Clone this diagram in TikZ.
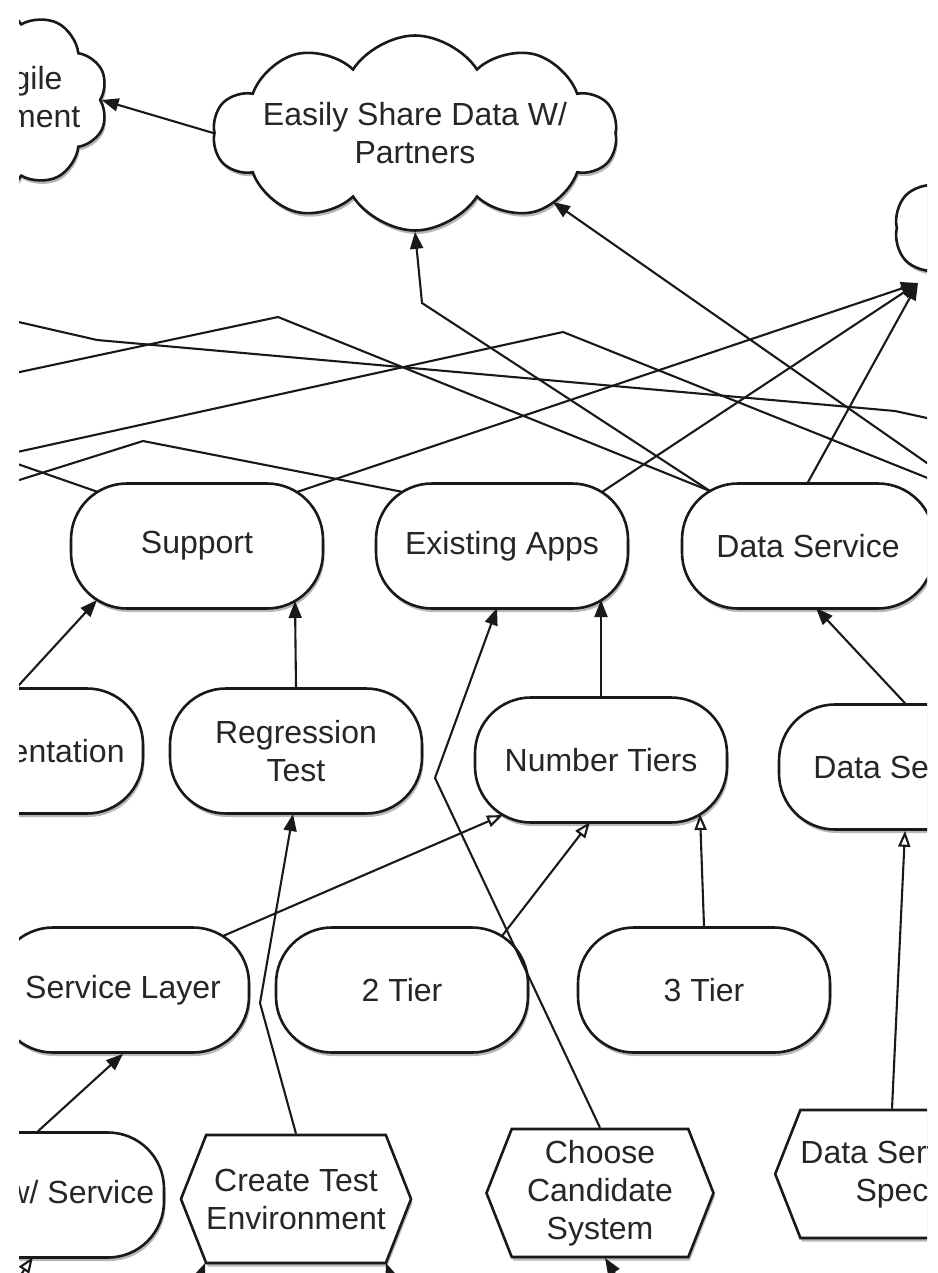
\documentclass[tikz,border=0pt]{standalone}
\usepackage{fontspec}
\setmainfont{Liberation Sans}
\usetikzlibrary{shapes.symbols,shapes.misc,arrows.meta,shadows,calc}

\tikzset{every picture/.style={line width=2.1pt}}
\tikzset{
  shape base/.style={draw=black!90, fill=white, line width=2.6pt, align=center,
    text=black!85, font=\fontsize{32pt}{38pt}\selectfont,
    drop shadow={shadow xshift=1.5pt, shadow yshift=-3.5pt, fill=black!35, opacity=0.8}},
  pill/.style={shape base, rectangle, rounded corners=56pt, minimum width=252pt, minimum height=125pt, inner sep=0pt},
  hexa/.style={shape base, signal, signal to=west and east, signal pointer angle=137, minimum width=227pt, minimum height=128pt, inner sep=0pt},
  puffy/.style={shape base, cloud, cloud puffs=10, cloud puff arc=115, cloud ignores aspect, inner xsep=-60pt, inner ysep=-30pt},
  dep/.style={draw=black!90, -{Triangle[length=17pt,width=13pt]}},
  isa/.style={draw=black!90, -{Triangle[open,length=16pt,width=12pt,fill=white]}},
  wire/.style={draw=black!90},
}

\begin{document}
\begin{tikzpicture}[x=1pt,y=1pt,yscale=-1,xscale=1]
\useasboundingbox (0,0) rectangle (937,1273);
\begin{scope}
\clip (19,0) rectangle (927,1273);

%Shape: Cloud
\node [puffy, minimum width=244pt, minimum height=190pt] (agile) at (-14,100) {More Agile\\Development};
%Shape: Cloud
\node [puffy, minimum width=404pt, minimum height=195pt] (easily) at (415,133) {Easily Share Data W/\\Partners};
%Shape: Cloud
\node [puffy, minimum width=430pt, minimum height=210pt] (rc) at (1110,228) {};

%Shape: Pill
\node [pill] (sup) at (197,546) {Support};
\node [pill] (ea) at (502,546) {Existing Apps};
\node [pill] (ds) at (808,546) {Data Service};
%Shape: Pill
\node [pill] (doc) at (17,751) {Documentation};
\node [pill] (reg) at (296,751) {Regression\\Test};
\node [pill] (nt) at (601,760) {Number Tiers};
\node [pill] (dse) at (905,767) {Data Service};
%Shape: Pill
\node [pill] (sl) at (123,990) {Service Layer};
\node [pill] (t2) at (402,990) {2 Tier};
\node [pill] (t3) at (704,990) {3 Tier};
%Shape: Pill
\node [pill] (wrap) at (38,1195) {Wrap w/ Service};

%Shape: Hexagon
\node [hexa] (cte) at (296,1199) {Create Test\\Environment};
\node [hexa] (ccs) at (600,1193) {Choose\\Candidate\\System};
\node [hexa] (dss) at (892,1174) {Data Service\\Spec};

% Off-page ends and bends
\coordinate (offL1) at (-60,304);
\coordinate (offL2) at (-60,389);
\coordinate (offL3) at (-60,469);
\coordinate (offL4) at (-60,437);
\coordinate (offL5) at (-60,505);
\coordinate (offR1) at (1000,434);
\coordinate (offR2) at (1000,507);
\coordinate (offR3) at (1000,514);
\coordinate (offB1) at (180,1330);
\coordinate (offB2) at (410,1330);
\coordinate (offB3) at (650,1330);
\coordinate (offB4) at (-10,1320);
\coordinate (bendA) at (97,340);
\coordinate (bendB) at (895,411);
\coordinate (bendC) at (278,317);
\coordinate (bendD) at (563,332);
\coordinate (bendE) at (143,441);
\coordinate (bendF) at (422,303);
\coordinate (bendG) at (260,1003);
\coordinate (bendH) at (435,778);
\coordinate (rcin) at ($(rc)+(-192,55)$);

%Straight Lines
\draw [dep] (easily.west) -- (agile.east);
\draw [dep] ($(ds)+(-98,-55)$) -- (bendF) -- (easily.south);
\draw [dep] (offR3) -- ($(easily)+(138,69)$);
\draw [dep] ($(sup)+(100,-54)$) -- (rcin);
\draw [dep] ($(ea)+(100,-54)$) -- (rcin);
\draw [dep] (ds.north) -- (rcin);
\draw [wire] (offL1) -- (bendA) -- (bendB) -- (offR1);
\draw [wire] ($(ds)+(-98,-55)$) -- (bendC) -- (offL2);
\draw [wire] (offL3) -- (bendD) -- (offR2);
\draw [wire] ($(sup)+(-99,-54)$) -- (offL4);
\draw [wire] ($(ea)+(-99,-54)$) -- (bendE) -- (offL5);

%Straight Lines
\draw [dep] (doc.north) -- ($(sup)+(-100,54)$);
\draw [dep] (reg.north) -- ($(sup)+(98,55)$);
\draw [dep] (nt.north) -- ($(ea)+(99,54)$);
\draw [dep] (dse.north) -- ($(ds)+(8,62)$);
\draw [isa] ($(sl)+(100,-54)$) -- ($(nt)+(-98,55)$);
\draw [isa] ($(t2)+(100,-54)$) -- ($(nt)+(-11,62)$);
\draw [isa] (t3.north) -- ($(nt)+(99,54)$);
\draw [dep] (wrap.north) -- (sl.south);
\draw [dep] (cte.north) -- (bendG) -- ($(reg)+(-3,63)$);
\draw [dep] (ccs.north) -- (bendH) -- ($(ea)+(-5,62)$);
\draw [isa] (dss.north) -- (dse.south);
\draw [dep] (offB1) -- ($(cte)+(-91,64)$);
\draw [dep] (offB2) -- ($(cte)+(90,64)$);
\draw [dep] (offB3) -- ($(ccs)+(5,65)$);
\draw [isa] (offB4) -- ($(wrap)+(-5,62)$);
\end{scope}
\end{tikzpicture}
\end{document}
